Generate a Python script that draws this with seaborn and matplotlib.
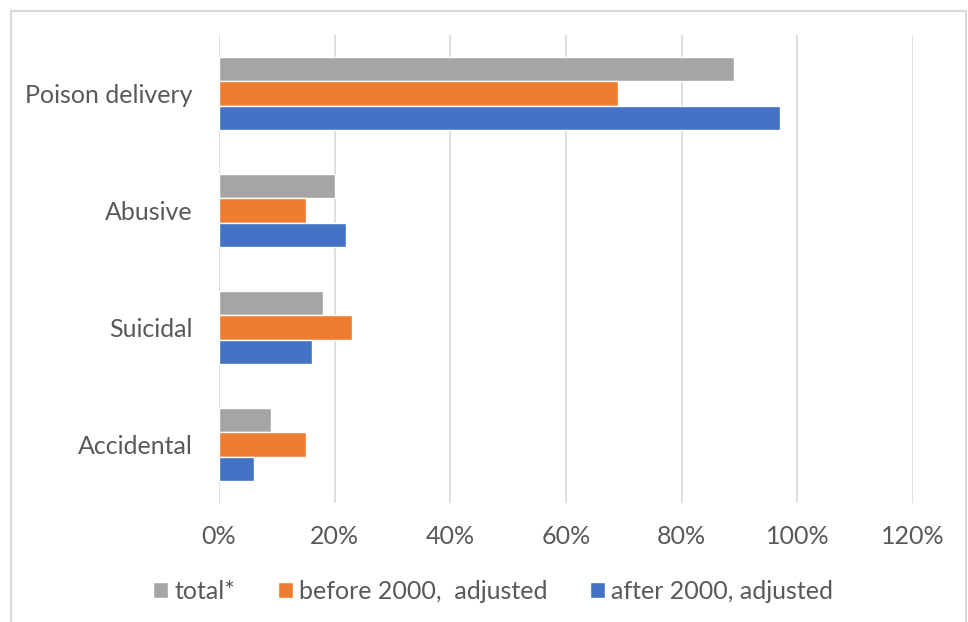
import matplotlib
matplotlib.use("Agg")
import matplotlib.pyplot as plt
from matplotlib.patches import Rectangle
from matplotlib.ticker import PercentFormatter
import pandas as pd
import seaborn as sns

categories = ["Poison delivery", "Abusive", "Suicidal", "Accidental"]
series = ["total*", "before 2000,  adjusted", "after 2000, adjusted"]
total = [89, 20, 18, 9]
before_2000 = [69, 15, 23, 15]
after_2000 = [97, 22, 16, 6]
x_ticks = [0, 20, 40, 60, 80, 100, 120]

colors = ["#A5A5A5", "#ED7D31", "#4472C4"]

df = pd.DataFrame({
    "category": categories * 3,
    "series": [series[0]] * 4 + [series[1]] * 4 + [series[2]] * 4,
    "value": total + before_2000 + after_2000,
})

sns.set_style("white")
plt.rcParams["font.family"] = ["Lato", "DejaVu Sans"]
text_color = "#595959"

fig = plt.figure(figsize=(9.68, 6.22), dpi=100)
ax = fig.add_axes([0.2262, 0.1913, 0.717, 0.7524])

sns.barplot(
    data=df, y="category", x="value", hue="series",
    order=categories, hue_order=series, palette=colors,
    width=0.62, orient="h", saturation=1, ax=ax,
)

ax.set_xlim(0, 120)
ax.set_ylim(3.5, -0.5)
ax.set_xticks(x_ticks)
ax.xaxis.set_major_formatter(PercentFormatter(decimals=0))
ax.grid(axis="x", color="#D9D9D9", linewidth=1.2)
ax.set_axisbelow(True)
for s in ax.spines.values():
    s.set_visible(False)
ax.set_xlabel("")
ax.set_ylabel("")
ax.tick_params(axis="both", length=0, labelsize=18, colors=text_color)
ax.tick_params(axis="x", pad=16)
ax.tick_params(axis="y", pad=19)

# Excel-style legend: one entry per slot along the bottom
handles, labels = ax.get_legend_handles_labels()
ax.get_legend().remove()
for h, lab, x0 in zip(handles, labels, [153, 278, 590]):
    fig.legend(
        [h], [lab], loc="center left", bbox_to_anchor=(x0 / 968, 0.049),
        frameon=False, fontsize=18, borderpad=0, borderaxespad=0,
        handlelength=0.6, handleheight=0.6, handletextpad=0.25,
        labelcolor=text_color,
    )

fig.patches.append(Rectangle(
    (11 / 968, -0.05), 955 / 968, 1.05 - 11 / 622,
    transform=fig.transFigure, fill=False, edgecolor="#D9D9D9", linewidth=1.5,
))

fig.savefig("out.png", dpi=100, facecolor="white")
